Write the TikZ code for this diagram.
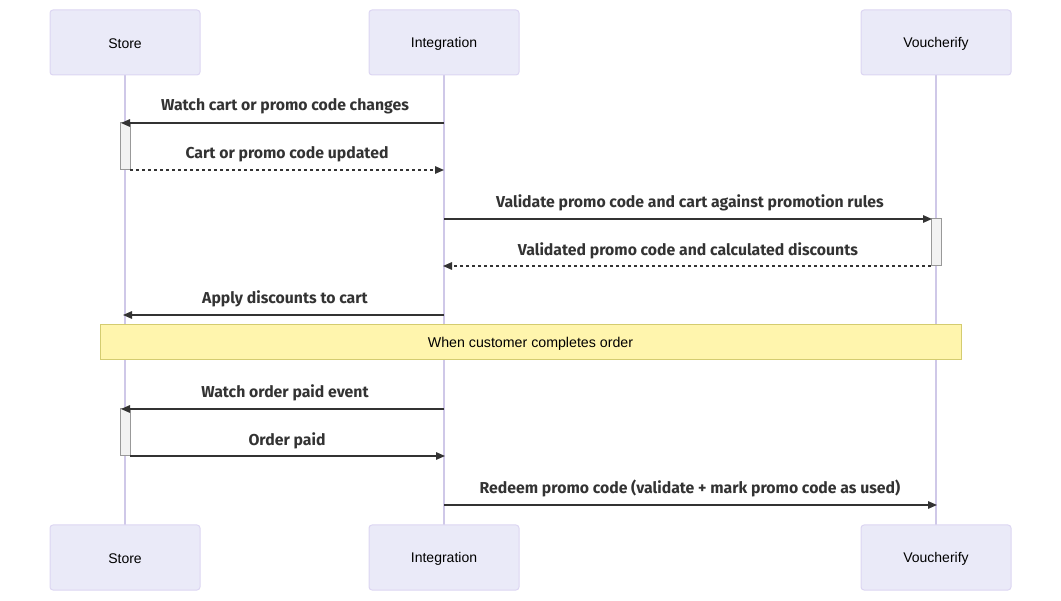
\documentclass[tikz,border=0pt]{standalone}
\usepackage{fontspec}
\setmainfont{Liberation Sans}
\newfontfamily\msgfont{Fira Sans}
\usetikzlibrary{arrows.meta}
\definecolor{actfill}{HTML}{EAEAF8}
\definecolor{actline}{HTML}{DCD6F2}
\definecolor{lifeline}{HTML}{CFC8E8}
\definecolor{msgline}{HTML}{333333}
\definecolor{notefill}{HTML}{FFF5AD}
\definecolor{noteline}{HTML}{D4CC70}
\tikzset{
  actor/.style={draw=actline, fill=actfill, rounded corners=3pt, minimum width=150pt, minimum height=65pt, inner sep=0pt, font=\fontsize{14}{16}\selectfont, line width=1pt},
  actlbl/.style={inner sep=0pt, font=\fontsize{14}{16}\selectfont, anchor=center},
  life/.style={draw=lifeline, line width=1.3pt},
  msg/.style={draw=msgline, line width=1.4pt, -{Triangle[length=9pt,width=7.5pt]}},
  reply/.style={msg, dash pattern=on 3pt off 3pt},
  lbl/.style={font=\msgfont\bfseries\fontsize{15.8}{18}\selectfont, text=msgline, inner sep=0pt},
  activ/.style={draw=gray!80, fill=gray!10, line width=1pt},
  notebox/.style={draw=noteline, fill=notefill, line width=1pt, minimum width=861pt, minimum height=35pt, inner sep=0pt}
}
\begin{document}
\begin{tikzpicture}[x=1pt,y=-1pt]
\useasboundingbox (0,0) rectangle (1061,601);
% lifelines
\coordinate (sT) at (125,75); \coordinate (sB) at (125,525);
\coordinate (iT) at (444,75); \coordinate (iB) at (444,525);
\coordinate (vT) at (936,75); \coordinate (vB) at (936,525);
\draw[life] (sT) -- (sB);
\draw[life] (iT) -- (iB);
\draw[life] (vT) -- (vB);
% actors
\node[actor] (store) at (125,42.5) {};
\node[actor] (integ) at (444,42.5) {};
\node[actor] (vouch) at (936,42.5) {};
\node[actor] (store2) at (125,557.5) {};
\node[actor] (integ2) at (444,557.5) {};
\node[actor] (vouch2) at (936,557.5) {};
\node[actlbl] (storeT) at ([yshift=-1.5pt]store.center) {Store};
\node[actlbl] (integT) at ([yshift=-1.5pt]integ.center) {Integration};
\node[actlbl] (vouchT) at ([yshift=-1.5pt]vouch.center) {Voucherify};
\node[actlbl] (store2T) at ([yshift=-1.5pt]store2.center) {Store};
\node[actlbl] (integ2T) at ([yshift=-1.5pt]integ2.center) {Integration};
\node[actlbl] (vouch2T) at ([yshift=-1.5pt]vouch2.center) {Voucherify};
% activations
\draw[activ] (120,123) rectangle (130,170);
\draw[activ] (931,219) rectangle (941,266);
\draw[activ] (120,409) rectangle (130,456);
% message endpoints
\coordinate (i1) at (444,123); \coordinate (s1) at (121,123);
\coordinate (s2) at (130,170); \coordinate (i2) at (444,170);
\coordinate (i3) at (444,219); \coordinate (v3) at (932,219);
\coordinate (v4) at (931,266); \coordinate (i4) at (443,266);
\coordinate (i5) at (444,315); \coordinate (s5) at (123,315);
\coordinate (i7) at (444,409); \coordinate (s7) at (121,409);
\coordinate (s8) at (130,456); \coordinate (i8) at (445,456);
\coordinate (i9) at (444,505); \coordinate (v9) at (937,505);
\draw[msg] (i1) -- (s1);
\draw[reply] (s2) -- (i2);
\draw[msg] (i3) -- (v3);
\draw[reply] (v4) -- (i4);
\draw[msg] (i5) -- (s5);
\draw[msg] (i7) -- (s7);
\draw[msg] (s8) -- (i8);
\draw[msg] (i9) -- (v9);
% labels
\node[lbl] (l1) at (285,106.5) {Watch cart or promo code changes};
\node[lbl] (l2) at (287,154.5) {Cart or promo code updated};
\node[lbl] (l3) at (690,202.5) {Validate promo code and cart against promotion rules};
\node[lbl] (l4) at (688,250.5) {Validated promo code and calculated discounts};
\node[lbl] (l5) at (285,298.5) {Apply discounts to cart};
\node[lbl] (l7) at (285,392.5) {Watch order paid event};
\node[lbl] (l8) at (287,440.5) {Order paid};
\node[lbl] (l9) at (690,488.5) {Redeem promo code (validate + mark promo code as used)};
% note
\node[notebox] (note) at (530.5,342.5) {};
\node[actlbl, font=\fontsize{14.2}{16}\selectfont] (noteT) at ([yshift=-1.5pt]note.center) {When customer completes order};
\end{tikzpicture}
\end{document}
